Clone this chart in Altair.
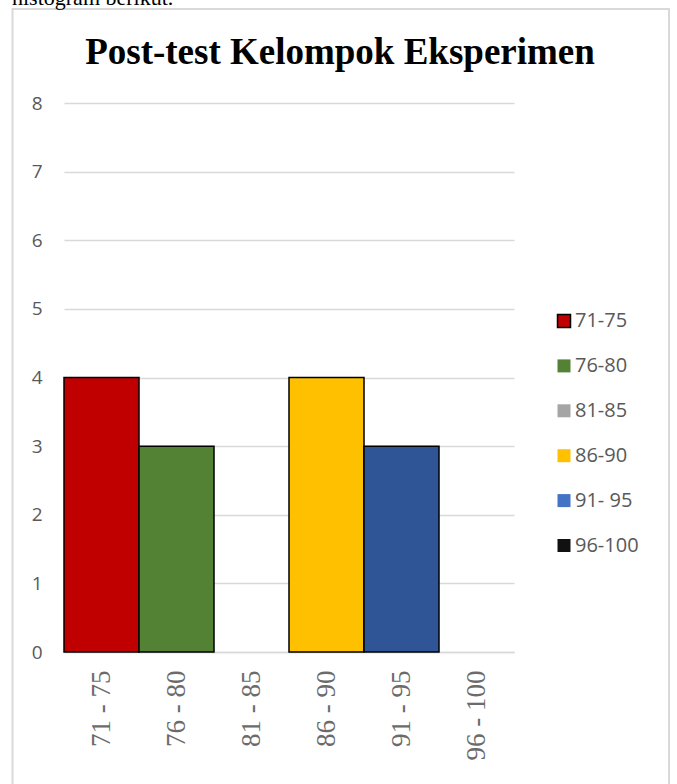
import altair as alt
import pandas as pd

# Post-test score classes and their frequencies
kelas = ["71-75", "76-80", "81-85", "86-90", "91- 95", "96-100"]
label_sumbu = ["71 - 75", "76 - 80", "81 - 85", "86 - 90", "91 - 95", "96 - 100"]
frekuensi = [4, 3, 0, 4, 3, 0]

# legend swatches and bar fills (the 91-95 bar is a darker blue than its swatch)
warna_legenda = ["#C00000", "#548235", "#A5A5A5", "#FFC000", "#4472C4", "#111111"]
warna_batang = ["#C00000", "#548235", "#A5A5A5", "#FFC000", "#2F5597", "#111111"]

judul = "Post-test Kelompok Eksperimen"
teks_atas = "histogram berikut."

df = pd.DataFrame({
    "kelas": kelas,
    "sumbu": label_sumbu,
    "frekuensi": frekuensi,
    "warna": warna_batang,
})

W, H = 450, 549
PAD = {"left": 64, "top": 103, "right": 677 - 64 - W, "bottom": 784 - 103 - H}

x_enc = alt.X(
    "sumbu:N",
    sort=label_sumbu,
    scale=alt.Scale(domain=label_sumbu, paddingInner=0, paddingOuter=0),
    axis=alt.Axis(
        title=None,
        labelAngle=270,
        labelFont="Liberation Serif",
        labelFontSize=27,
        labelColor="#6b6b6b",
        labelPadding=18,
        ticks=False,
        domainColor="#d9d9d9",
        domainWidth=1.5,
        grid=False,
    ),
)
y_enc = alt.Y(
    "frekuensi:Q",
    scale=alt.Scale(domain=[0, 8], nice=False),
    axis=alt.Axis(
        title=None,
        values=list(range(0, 9)),
        format="d",
        labelFont="Open Sans",
        labelFontSize=19,
        labelColor="#595959",
        labelPadding=22,
        ticks=False,
        domain=False,
        gridColor="#d9d9d9",
        gridWidth=1.5,
    ),
)

bars_data = alt.Chart(df).transform_filter("datum.frekuensi > 0")

# base layer carries the legend
legend_bars = bars_data.mark_bar().encode(
    x=x_enc,
    y=y_enc,
    color=alt.Color(
        "kelas:N",
        sort=kelas,
        scale=alt.Scale(domain=kelas, range=warna_legenda),
        legend=alt.Legend(
            title=None,
            orient="none",
            legendX=490,
            legendY=208,
            symbolType="square",
            symbolSize=169,
            symbolStrokeWidth=1.5,
            symbolStrokeColor={"expr": "datum.value === '71-75' ? '#000000' : 'transparent'"},
            labelFont="Open Sans",
            labelFontSize=20,
            labelColor="#595959",
            labelOffset=1,
            rowPadding=24.9,
            padding=0,
        ),
    ),
)

# visible bars with black outlines
fill_bars = bars_data.mark_bar(stroke="#000000", strokeWidth=1.5).encode(
    x=alt.X("sumbu:N", sort=label_sumbu),
    y="frekuensi:Q",
    fill=alt.Fill("warna:N", scale=None, legend=None),
)

# light frame around the figure
frame = alt.Chart(pd.DataFrame({"a": [0]})).mark_rect(
    fill=None, stroke="#d9d9d9", strokeWidth=2
).encode(
    x=alt.value(-51.5), x2=alt.value(605), y=alt.value(-94), y2=alt.value(700)
)

# line of body text above the figure
caption = alt.Chart(pd.DataFrame({"t": [teks_atas]})).mark_text(
    font="Liberation Serif", fontSize=22, color="#000000", align="left", baseline="alphabetic"
).encode(
    text="t:N", x=alt.value(-52), y=alt.value(-98)
)

# chart heading, centred on the frame
heading = alt.Chart(pd.DataFrame({"t": [judul]})).mark_text(
    font="Liberation Serif", fontSize=37, fontWeight="bold", color="#000000",
    align="center", baseline="alphabetic"
).encode(
    text="t:N", x=alt.value(276), y=alt.value(-39)
)

chart = alt.layer(legend_bars, fill_bars, frame, caption, heading).properties(
    width=W,
    height=H,
    padding=PAD,
    autosize=alt.AutoSizeParams(type="none"),
    background="#ffffff",
).configure_view(stroke=None)

chart.save("out.html", embed_options={"renderer": "svg", "actions": False})
